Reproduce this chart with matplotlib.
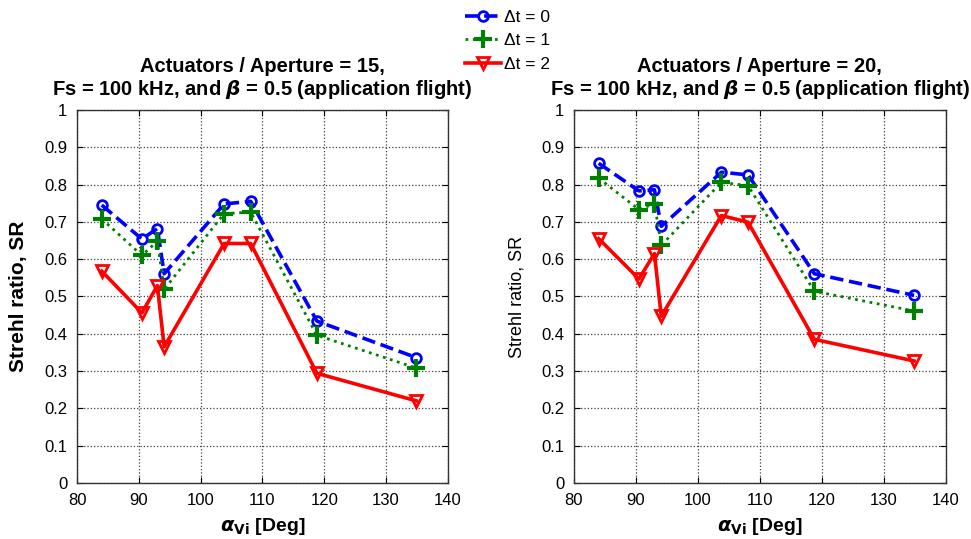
import matplotlib
matplotlib.use('Agg')
import matplotlib.pyplot as plt
import numpy as np

plt.rcParams['font.family'] = ['Liberation Sans', 'DejaVu Sans']
plt.rcParams['mathtext.fontset'] = 'dejavusans'

# angle of view alpha_Vi [deg]
alpha = [84.0, 90.5, 93.0, 94.1, 103.8, 108.1, 118.8, 134.9]

# Actuators / Aperture = 15
sr15_dt0 = [0.745, 0.654, 0.682, 0.561, 0.748, 0.755, 0.434, 0.336]
sr15_dt1 = [0.708, 0.610, 0.648, 0.519, 0.722, 0.726, 0.396, 0.308]
sr15_dt2 = [0.568, 0.456, 0.529, 0.365, 0.642, 0.642, 0.294, 0.220]

# Actuators / Aperture = 20
sr20_dt0 = [0.857, 0.783, 0.786, 0.688, 0.833, 0.826, 0.561, 0.503]
sr20_dt1 = [0.817, 0.733, 0.749, 0.637, 0.806, 0.797, 0.514, 0.461]
sr20_dt2 = [0.655, 0.547, 0.615, 0.447, 0.717, 0.699, 0.385, 0.327]

titles = ['Actuators / Aperture = 15,\nFs = 100 kHz, and $\\boldsymbol{\\beta}$ = 0.5 (application flight)',
          'Actuators / Aperture = 20,\nFs = 100 kHz, and $\\boldsymbol{\\beta}$ = 0.5 (application flight)']
labels = ['\u0394t = 0', '\u0394t = 1', '\u0394t = 2']


def draw_panel(ax, s0, s1, s2, title, ylab_bold, ylab_size, ylab_x):
    ax.plot(alpha, s0, '--o', color='#0000ff', lw=2.6, ms=7, mfc='none', mew=2, label=labels[0])
    ax.plot(alpha, s1, ':+', color='#008000', lw=2.0, ms=13, mew=3, label=labels[1])
    ax.plot(alpha, s2, '-v', color='#ff0000', lw=2.6, ms=8, mfc='none', mew=2, label=labels[2])
    ax.set_xlim(80, 140)
    ax.set_ylim(0, 1)
    ax.set_xticks(np.arange(80, 141, 10))
    ax.set_yticks(np.arange(0, 1.01, 0.1))
    ax.set_yticklabels(['0'] + ['%.1f' % v for v in np.arange(0.1, 0.95, 0.1)] + ['1'])
    ax.grid(True, linestyle=':', color='#404040', lw=0.9)
    ax.tick_params(direction='in', top=True, right=True, labelsize=12, length=4, pad=7)
    for sp in ax.spines.values():
        sp.set_linewidth(1.0)
        sp.set_color('#333333')
    ax.set_title(title, fontsize=14.5, fontweight='bold', pad=11, linespacing=1.1)
    ax.set_xlabel('$\\boldsymbol{\\alpha}_{\\mathbf{Vi}}$ [Deg]', fontsize=14, fontweight='bold')
    ax.xaxis.label.set_va('center')
    ax.xaxis.set_label_coords(0.5, -0.116)
    ax.set_ylabel('Strehl ratio, SR', fontsize=ylab_size,
                  fontweight='bold' if ylab_bold else 'normal')
    ax.yaxis.label.set_va('center')
    ax.yaxis.set_label_coords(ylab_x, 0.5)


fig = plt.figure(figsize=(9.71, 5.39), dpi=100)
ax1 = fig.add_axes([0.0793, 0.104, 0.382, 0.692])
ax2 = fig.add_axes([0.591, 0.104, 0.383, 0.692])

draw_panel(ax1, sr15_dt0, sr15_dt1, sr15_dt2, titles[0], True, 15, -0.159)
draw_panel(ax2, sr20_dt0, sr20_dt1, sr20_dt2, titles[1], False, 13, -0.153)

h, l = ax1.get_legend_handles_labels()
fig.legend(h, l, loc='upper left', bbox_to_anchor=(0.466, 1.005), frameon=False,
           fontsize=12.5, handlelength=2.1, handletextpad=0.15, labelspacing=0.5,
           borderaxespad=0.3)

fig.savefig('out.png', dpi=100)
